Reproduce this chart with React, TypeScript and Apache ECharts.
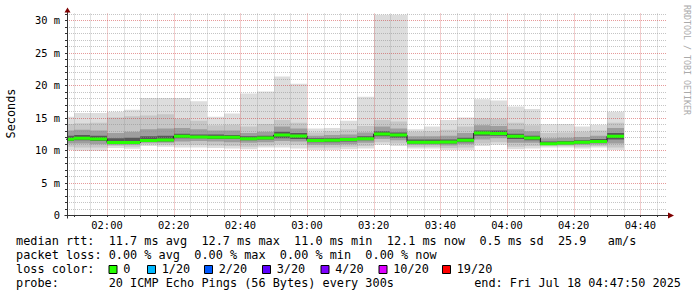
import React, { useEffect, useRef } from "react";
import * as echarts from "echarts";

// ---------- data (minutes since midnight, milliseconds) ----------
const binStart = [
  105, 110, 115, 120, 125, 130, 135, 140, 145, 150, 155, 160, 165, 170, 175, 180, 185,
  190, 195, 200, 205, 210, 215, 220, 225, 230, 235, 240, 245, 250, 255, 260, 265, 270,
];
const binMinutes = 5;
const pingMin = [
  10.0, 9.9, 9.9, 10.3, 10.2, 10.6, 10.5, 10.4, 10.4, 10.3, 10.25, 10.1, 10.4, 10.4, 10.25, 10.0, 10.0,
  10.1, 10.25, 10.8, 10.6, 10.25, 10.25, 10.0, 10.0, 10.6, 10.8, 10.1, 10.25, 10.4, 10.4, 10.25, 10.4, 10.0,
];
const pingLo1 = [
  10.5, 10.4, 10.4, 10.6, 10.5, 10.9, 10.8, 10.8, 10.8, 10.7, 10.6, 10.5, 10.7, 10.9, 10.8, 10.4, 10.4,
  10.5, 10.6, 11.2, 11.0, 10.5, 10.5, 10.3, 10.4, 11.0, 11.2, 10.5, 10.6, 10.6, 10.6, 10.5, 10.6, 10.4,
];
const pingLo2 = [
  11.0, 11.0, 10.9, 10.8, 10.8, 11.1, 11.1, 11.3, 11.4, 11.3, 11.2, 11.1, 11.2, 11.4, 11.3, 10.8, 10.8,
  10.9, 11.1, 11.7, 11.5, 10.8, 10.8, 10.7, 10.9, 11.6, 11.8, 11.1, 11.1, 10.8, 10.8, 10.8, 10.9, 11.0,
];
const pingLo3 = [
  11.4, 11.5, 11.4, 11.0, 11.0, 11.3, 11.3, 11.8, 11.8, 11.7, 11.7, 11.5, 11.6, 11.8, 11.7, 11.2, 11.2,
  11.3, 11.5, 12.1, 11.9, 11.0, 11.0, 11.0, 11.2, 12.2, 12.2, 11.7, 11.5, 10.9, 10.9, 11.0, 11.1, 11.6,
];
const medianRtt = [
  11.65, 11.8, 11.7, 11.15, 11.15, 11.45, 11.55, 12.1, 12.0, 11.95, 11.95, 11.75, 11.85, 12.3, 12.15, 11.45, 11.5,
  11.6, 11.75, 12.45, 12.3, 11.2, 11.2, 11.25, 11.5, 12.6, 12.55, 12.1, 11.85, 10.97, 11.08, 11.2, 11.3, 12.1,
];
const pingHi3 = [
  12.2, 12.3, 12.2, 11.8, 11.9, 12.1, 12.2, 12.5, 12.4, 12.4, 12.3, 12.1, 12.2, 12.8, 12.6, 11.8, 11.8,
  11.9, 12.1, 12.9, 12.7, 11.6, 11.6, 11.6, 11.9, 13.0, 13.0, 12.5, 12.2, 11.3, 11.4, 11.5, 11.7, 12.6,
];
const pingHi2 = [
  13.0, 13.1, 13.0, 12.6, 12.8, 13.2, 13.3, 13.4, 13.2, 13.0, 13.0, 12.6, 12.8, 13.6, 13.3, 12.2, 12.3,
  12.4, 12.7, 13.6, 13.3, 12.1, 12.1, 12.2, 12.6, 13.8, 13.7, 13.2, 12.9, 11.8, 11.9, 12.0, 12.2, 13.4,
];
const pingHi1 = [
  14.0, 14.1, 14.2, 15.0, 15.2, 15.3, 15.5, 14.8, 14.5, 13.8, 13.9, 13.6, 14.0, 14.6, 14.2, 12.7, 12.9,
  13.2, 13.7, 14.6, 14.4, 12.8, 12.9, 13.1, 13.6, 14.9, 14.8, 14.2, 13.8, 12.6, 12.7, 12.8, 13.0, 14.2,
];
const pingMax = [
  15.1, 15.7, 15.7, 15.9, 16.2, 18.0, 18.0, 18.0, 17.5, 15.1, 15.6, 18.7, 19.0, 21.3, 20.2, 13.3, 13.4,
  14.5, 18.2, 30.8, 30.8, 13.2, 13.6, 14.6, 15.0, 17.8, 17.6, 16.7, 16.3, 13.95, 14.0, 13.6, 13.9, 15.9,
];

// ---------- axes / ticks ----------
const X_MIN = 108; // 01:48
const X_MAX = 288; // 04:48
const Y_MAX = 31;
const majorTimeTicks = [120, 140, 160, 180, 200, 220, 240, 260, 280];
const timeLabels = ["02:00", "02:20", "02:40", "03:00", "03:20", "03:40", "04:00", "04:20", "04:40"];
const minorTimeStep = 5;
const yTickValues = [0, 5, 10, 15, 20, 25, 30];
const yTickLabels = ["0", "5 m", "10 m", "15 m", "20 m", "25 m", "30 m"];
const yMinorStep = 1;

// ---------- legend text ----------
const legendRow1 = "median rtt:  11.7 ms avg  12.7 ms max  11.0 ms min  12.1 ms now  0.5 ms sd  25.9   am/s";
const legendRow2 = "packet loss: 0.00 % avg  0.00 % max  0.00 % min  0.00 % now";
const lossTitle = "loss color:";
const lossLabels = ["0", "1/20", "2/20", "3/20", "4/20", "10/20", "19/20"];
const lossColors = ["#26ff00", "#00b8ff", "#0059ff", "#5e00ff", "#7e00ff", "#dd00ff", "#ff0000"];
const probeLabel = "probe:";
const probeText = "20 ICMP Echo Pings (56 Bytes) every 300s";
const endText = "end: Fri Jul 18 04:47:50 2025";
const watermark = "RRDTOOL / TOBI OETIKER";
const yName = "Seconds";

const MONO = '"DejaVu Sans Mono", monospace';
const LEG_FS = 11.85;
const ADV = 7.13;
const AXIS_FS = 10.4;
const MINOR_GRID = "rgba(140,140,140,0.5)";
const MAJOR_GRID = "rgba(200,30,30,0.45)";
const AXIS_COLOR = "#333333";
const ARROW_COLOR = "#7f0000";

function tokenTexts(line: string, x0: number, y: number) {
  const out: any[] = [];
  const re = /\S+/g;
  let m: RegExpExecArray | null;
  while ((m = re.exec(line))) {
    out.push({
      type: "text",
      x: x0 + m.index * ADV,
      y,
      silent: true,
      style: {
        text: m[0],
        font: `${LEG_FS}px ${MONO}`,
        fill: "#000",
        align: "left",
        verticalAlign: "middle",
        textAlign: "left",
        textVerticalAlign: "middle",
      },
    });
  }
  return out;
}

export default function App() {
  const ref = useRef<HTMLDivElement>(null);

  useEffect(() => {
    if (!ref.current) return;
    const chart = echarts.init(ref.current, undefined, { renderer: "svg" });

    const smokeData = binStart.map((s, i) => [
      s, s + binMinutes, pingMin[i], pingLo1[i], pingLo2[i], pingLo3[i], medianRtt[i],
      pingHi3[i], pingHi2[i], pingHi1[i], pingMax[i],
    ]);
    const stepData: number[][] = binStart.map((s, i) => [s, medianRtt[i]]);
    stepData.push([binStart[binStart.length - 1] + binMinutes, medianRtt[medianRtt.length - 1]]);

    const vGrid: number[][] = [];
    for (let t = X_MIN + 2; t < X_MAX; t += minorTimeStep) {
      vGrid.push([t, majorTimeTicks.indexOf(t) >= 0 ? 1 : 0]);
    }
    const hGrid: number[][] = [];
    for (let v = yMinorStep; v <= Y_MAX; v += yMinorStep) {
      hGrid.push([X_MIN, v, yTickValues.indexOf(v) >= 0 ? 1 : 0]);
    }

    const clampX = (t: number) => Math.min(Math.max(t, X_MIN), X_MAX);

    chart.setOption({
      animation: false,
      backgroundColor: "#ffffff",
      grid: { left: 67, right: 30, top: 13.5, bottom: 82, containLabel: false },
      xAxis: {
        type: "value",
        min: X_MIN,
        max: X_MAX,
        axisLine: { show: false },
        axisTick: { show: false },
        splitLine: { show: false },
        axisLabel: {
          customValues: majorTimeTicks,
          formatter: (v: number) => {
            const i = majorTimeTicks.indexOf(Math.round(v));
            return i >= 0 ? timeLabels[i] : "";
          },
          fontFamily: MONO,
          fontSize: AXIS_FS,
          color: "#000",
          margin: 5,
        },
      },
      yAxis: {
        type: "value",
        min: 0,
        max: Y_MAX,
        interval: 5,
        axisLine: { show: false },
        axisTick: { show: false },
        splitLine: { show: false },
        axisLabel: {
          customValues: yTickValues,
          formatter: (v: number) => {
            const i = yTickValues.indexOf(Math.round(v * 1000) / 1000);
            return i >= 0 ? yTickLabels[i] : "";
          },
          fontFamily: MONO,
          fontSize: AXIS_FS,
          color: "#000",
          margin: 7,
        },
      },
      series: [
        {
          type: "custom",
          name: "smoke",
          z: 1,
          clip: true,
          encode: { x: [0, 1], y: [2, 10] },
          data: smokeData,
          renderItem: (params: any, api: any) => {
            const s = clampX(api.value(0));
            const e = clampX(api.value(1));
            const x0 = Math.round(api.coord([s, 0])[0]);
            const x1 = Math.round(api.coord([e, 0])[0]);
            const yOf = (v: number) => api.coord([s, v])[1];
            const band = (lo: number, hi: number, fill: string) => ({
              type: "rect",
              shape: { x: x0, y: yOf(hi), width: x1 - x0, height: yOf(lo) - yOf(hi) },
              style: { fill },
            });
            return {
              type: "group",
              children: [
                band(api.value(2), api.value(10), "#dddddd"),
                band(api.value(3), api.value(9), "#c6c6c6"),
                band(api.value(4), api.value(8), "#9e9e9e"),
                band(api.value(5), api.value(7), "#585858"),
              ],
            };
          },
        },
        {
          type: "custom",
          name: "vgrid",
          z: 2,
          silent: true,
          encode: { x: 0, y: 1 },
          data: vGrid,
          renderItem: (params: any, api: any) => {
            const t = api.value(0);
            const top = api.coord([t, Y_MAX]);
            const bot = api.coord([t, 0]);
            const x = Math.round(top[0]) + 0.5;
            return {
              type: "group",
              children: [
                {
                  type: "line",
                  shape: { x1: x, y1: top[1], x2: x, y2: bot[1] },
                  style: { stroke: api.value(1) ? MAJOR_GRID : MINOR_GRID, lineWidth: 1, lineDash: [1, 1] },
                },
                {
                  type: "line",
                  shape: { x1: x, y1: bot[1], x2: x, y2: bot[1] + 2 },
                  style: { stroke: AXIS_COLOR, lineWidth: 1 },
                },
              ],
            };
          },
        },
        {
          type: "custom",
          name: "hgrid",
          z: 2,
          silent: true,
          encode: { x: 0, y: 1 },
          data: hGrid,
          renderItem: (params: any, api: any) => {
            const v = api.value(1);
            const l = api.coord([X_MIN, v]);
            const r = api.coord([X_MAX, v]);
            const y = Math.round(l[1]) + 0.5;
            return {
              type: "group",
              children: [
                {
                  type: "line",
                  shape: { x1: l[0], y1: y, x2: r[0], y2: y },
                  style: { stroke: api.value(2) ? MAJOR_GRID : MINOR_GRID, lineWidth: 1, lineDash: [1, 1] },
                },
                {
                  type: "line",
                  shape: { x1: l[0] - 2, y1: y, x2: l[0], y2: y },
                  style: { stroke: AXIS_COLOR, lineWidth: 1 },
                },
              ],
            };
          },
        },
        {
          type: "line",
          name: "median step",
          z: 3,
          step: "end",
          symbol: "none",
          silent: true,
          data: stepData,
          lineStyle: { color: "#1a1a1a", width: 1 },
        },
        {
          type: "custom",
          name: "median",
          z: 4,
          clip: true,
          encode: { x: [0, 1], y: 2 },
          data: binStart.map((s, i) => [s, s + binMinutes, medianRtt[i]]),
          renderItem: (params: any, api: any) => {
            const s = clampX(api.value(0));
            const e = clampX(api.value(1));
            const x0 = Math.round(api.coord([s, 0])[0]);
            const x1 = Math.round(api.coord([e, 0])[0]);
            const y = api.coord([s, api.value(2)])[1];
            return {
              type: "rect",
              shape: { x: x0, y: y - 1.5, width: x1 - x0, height: 3 },
              style: { fill: lossColors[0] },
            };
          },
        },
      ],
    });

    const o = chart.convertToPixel({ gridIndex: 0 }, [X_MIN, 0]) as number[];
    const tr = chart.convertToPixel({ gridIndex: 0 }, [X_MAX, Y_MAX]) as number[];
    const ox = Math.round(o[0]) + 0.5;
    const oy = Math.round(o[1]) + 0.5;
    const topY = tr[1];
    const rightX = tr[0];

    const graphics: any[] = [
      { type: "line", silent: true, z: 10, shape: { x1: ox, y1: oy + 3, x2: ox, y2: topY - 2 }, style: { stroke: AXIS_COLOR, lineWidth: 1 } },
      { type: "line", silent: true, z: 10, shape: { x1: ox - 3, y1: oy, x2: rightX + 2, y2: oy }, style: { stroke: AXIS_COLOR, lineWidth: 1 } },
      { type: "polygon", silent: true, z: 11, shape: { points: [[ox, topY - 6], [ox - 3, topY - 1], [ox + 3, topY - 1]] }, style: { fill: ARROW_COLOR } },
      { type: "polygon", silent: true, z: 11, shape: { points: [[rightX + 7, oy], [rightX + 1, oy - 3], [rightX + 1, oy + 3]] }, style: { fill: ARROW_COLOR } },
      {
        type: "text", x: 11, y: 113.5, rotation: Math.PI / 2, silent: true,
        style: { text: yName, font: `${LEG_FS}px ${MONO}`, fill: "#000", align: "center", verticalAlign: "middle", textAlign: "center", textVerticalAlign: "middle" },
      },
      {
        type: "text", x: 686.5, y: 60, rotation: -Math.PI / 2, silent: true,
        style: { text: watermark, font: `8.3px ${MONO}`, fill: "#aaaaaa", align: "center", verticalAlign: "middle", textAlign: "center", textVerticalAlign: "middle" },
      },
      ...tokenTexts(legendRow1, 16, 241.3),
      ...tokenTexts(legendRow2, 16, 255.2),
      ...tokenTexts(lossTitle, 16, 269.3),
      ...tokenTexts(probeLabel, 16, 283.2),
      ...tokenTexts(probeText, 16 + 13 * ADV, 283.2),
      {
        type: "text", x: 681, y: 283.2, silent: true,
        style: { text: endText, font: `${LEG_FS}px ${MONO}`, fill: "#000", align: "right", verticalAlign: "middle", textAlign: "right", textVerticalAlign: "middle" },
      },
    ];
    const boxX = [108.5, 147, 204, 262, 320.5, 378.5, 442];
    lossLabels.forEach((lab, i) => {
      graphics.push({
        type: "rect", silent: true,
        shape: { x: boxX[i] + 0.5, y: 265.5, width: 8, height: 8 },
        style: { fill: lossColors[i], stroke: "#000", lineWidth: 1 },
      });
      graphics.push({
        type: "text", x: boxX[i] + 14.7, y: 269.3, silent: true,
        style: { text: lab, font: `${LEG_FS}px ${MONO}`, fill: "#000", align: "left", verticalAlign: "middle", textAlign: "left", textVerticalAlign: "middle" },
      });
    });

    chart.setOption({ graphic: graphics });

    return () => chart.dispose();
  }, []);

  return (
    <div
      ref={ref}
      style={{ position: "fixed", left: 0, top: 0, width: 697, height: 297, background: "#fff" }}
    />
  );
}
